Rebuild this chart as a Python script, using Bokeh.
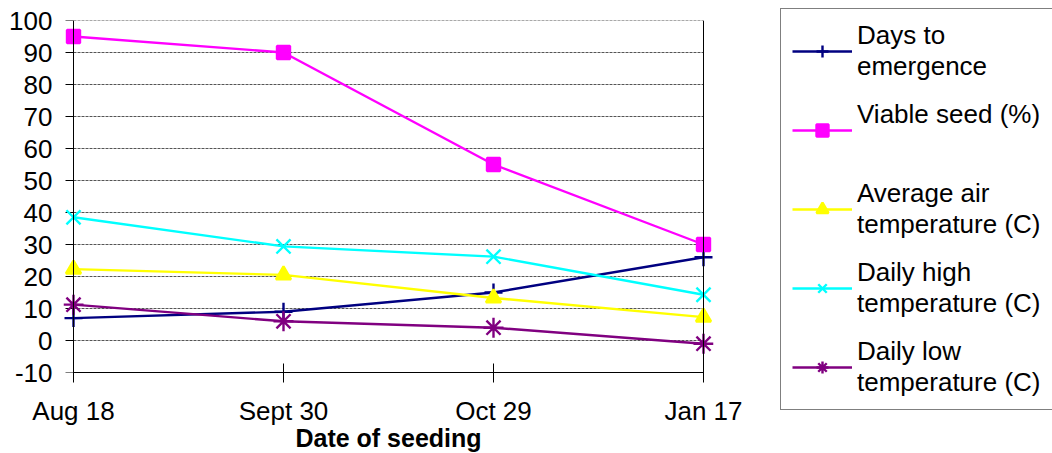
import math
from bokeh.plotting import figure
from bokeh.models import FixedTicker, Span, Legend, LegendItem
from bokeh.embed import file_html
from bokeh.resources import INLINE

dates = ["Aug 18", "Sept 30", "Oct 29", "Jan 17"]
days_to_emergence = [7, 9, 15, 26]
viable_seed = [95, 90, 55, 30]
avg_air_temp = [22.3, 20.5, 13.3, 7.3]
daily_high = [38.5, 29.4, 26.2, 14.3]
daily_low = [11.2, 6, 4, -1]
y_ticks = list(range(-10, 101, 10))
series_labels = ["Days to\nemergence", "Viable seed (%)\n ", "Average air\ntemperature (C)",
                 "Daily high\ntemperature (C)", "Daily low\ntemperature (C)"]

xs = list(range(len(dates)))
x_last = len(dates) - 1
FONT = "Liberation Sans"
FS = "26px"

PAD = 10 / 210  # small pad so edge markers are not clipped
p = figure(frame_width=650, frame_height=352, output_backend="svg", toolbar_location=None,
           x_range=(-PAD, x_last + PAD), y_range=(y_ticks[0], y_ticks[-1]),
           min_border_left=63, min_border_right=339, min_border_top=20, min_border_bottom=60)
p.outline_line_color = None
p.background_fill_color = "white"
p.border_fill_color = "white"

p.xaxis.ticker = FixedTicker(ticks=xs)
p.xaxis.major_label_overrides = {i: d for i, d in enumerate(dates)}
p.xaxis.bounds = (0, x_last)
p.yaxis.ticker = FixedTicker(ticks=y_ticks)
p.yaxis.major_label_overrides = {t: str(t) for t in y_ticks}
for ax in (p.xaxis[0], p.yaxis[0]):
    ax.axis_line_color = "black"
    ax.axis_line_width = 1
    ax.major_tick_line_color = "black"
    ax.minor_tick_line_color = None
    ax.major_label_text_font = FONT
    ax.major_label_text_font_size = FS
    ax.major_label_text_color = "black"
p.xaxis.major_tick_in = 9
p.xaxis.major_tick_out = 10
p.xaxis.major_label_standoff = 13
# y axis: labels from the side axis, line and ticks drawn at x = first category
p.yaxis.axis_line_color = None
p.yaxis.major_tick_line_color = None
p.yaxis.major_tick_in = 0
p.yaxis.major_tick_out = 0
p.yaxis.major_label_standoff = 11
p.xaxis.axis_label = "Date of seeding"
p.xaxis.axis_label_text_font = FONT
p.xaxis.axis_label_text_font_size = "25px"
p.xaxis.axis_label_text_font_style = "bold"
p.xaxis.axis_label_text_color = "black"
p.xaxis.axis_label_standoff = -5

p.xgrid.grid_line_color = None
p.ygrid.grid_line_color = None

# horizontal dashed gridlines spanning the category extent only
grid_y = y_ticks[1:]
p.segment(x0=[0] * len(grid_y), x1=[x_last] * len(grid_y), y0=grid_y, y1=grid_y,
          line_color="#555555", line_dash="3 1", line_width=1)
p.add_layout(Span(location=0, dimension="height", line_color="black", line_width=1))
p.add_layout(Span(location=x_last, dimension="height", line_color="black", line_width=1))
p.ray(x=[0] * len(y_ticks), y=y_ticks, length=8, length_units="screen", angle=math.pi,
      line_color="black", line_width=1)

styles = [
    ("#000080", "cross", 18),
    ("#FF00FF", "square", 13),
    ("#FFFF00", "triangle", 15),
    ("#00FFFF", "x", 20),
    ("#800080", "asterisk", 20),
]
values = [days_to_emergence, viable_seed, avg_air_temp, daily_high, daily_low]

items = []
for label, vals, (color, marker, size) in zip(series_labels, values, styles):
    l = p.line(xs, vals, line_color=color, line_width=2.4)
    s = p.scatter(xs, vals, marker=marker, size=size, fill_color=color,
                  line_color=color, line_width=2.4)
    items.append(LegendItem(label=label, renderers=[l, s]))

legend = Legend(items=items, location=(67, -38))
legend.label_text_font = FONT
legend.label_text_font_size = FS
legend.label_text_color = "black"
legend.label_text_line_height = 1.15
legend.glyph_width = 60
legend.glyph_height = 30
legend.label_standoff = 5
legend.padding = 11
legend.spacing = 17
legend.margin = 0
legend.border_line_color = "black"
legend.border_line_width = 1
legend.background_fill_color = "white"
legend.background_fill_alpha = 1
p.add_layout(legend, "right")

open("out.html", "w").write(file_html(p, INLINE))
